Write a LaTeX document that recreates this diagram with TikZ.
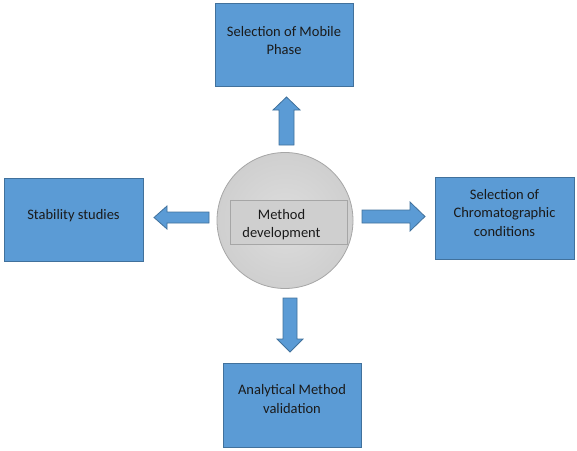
\documentclass[tikz,border=0pt]{standalone}
\usepackage{fontspec}
\setmainfont{Carlito}
\definecolor{boxfill}{HTML}{5B9BD5}
\definecolor{boxline}{HTML}{41719C}
\definecolor{circfill}{HTML}{CFCFCF}
\definecolor{circline}{HTML}{A6A6A6}
\definecolor{txt}{HTML}{1A1A1A}
\tikzset{
  bluebox/.style={draw=boxline, fill=boxfill, line width=0.8pt, inner sep=0pt},
  lbl/.style={inner sep=0pt, align=center, text=txt, font=\fontsize{14.5}{18.7}\selectfont},
  blockarrow/.style={draw=boxline, fill=boxfill, line width=0.8pt, line join=miter},
}
\begin{document}
\begin{tikzpicture}[x=1pt,y=-1pt]
\useasboundingbox (0,0) rectangle (577,450);
% center
\node[circle, draw=circline, inner color=circfill!70!white, outer color=circfill, minimum size=136pt, inner sep=0pt, line width=0.8pt] (c) at (285,220.5) {};
\node[draw=circline, fill=circfill, line width=0.8pt, minimum width=117pt, minimum height=44pt, inner sep=0pt] (m) at (288.5,222) {};
\node[lbl] (mt) at ([xshift=-7pt,yshift=-2.5pt]m.center) {Method\\development};
% boxes
\node[bluebox, minimum width=138pt, minimum height=83pt] (top) at (284,44.5) {};
\node[lbl] (topt) at ([yshift=4pt]top.center) {Selection of Mobile\\Phase};
\node[bluebox, minimum width=139pt, minimum height=83pt] (left) at (73.5,219.5) {};
\node[lbl] (leftt) at ([yshift=4pt]left.center) {Stability studies};
\node[bluebox, minimum width=139pt, minimum height=82pt] (right) at (504.5,218) {};
\node[lbl] (rightt) at ([yshift=5pt]right.center) {Selection of\\Chromatographic\\conditions};
\node[bluebox, minimum width=138pt, minimum height=84pt] (bot) at (292,405) {};
\node[lbl] (bott) at ([yshift=6pt]bot.center) {Analytical Method\\validation};
% block arrows
\draw[blockarrow] (279,145) -- (279,110) -- (273,110) -- (286.5,97) -- (300,110) -- (294,110) -- (294,145) -- cycle;
\draw[blockarrow] (209,212) -- (167,212) -- (167,206) -- (154,217.5) -- (167,229) -- (167,223) -- (209,223) -- cycle;
\draw[blockarrow] (362,210) -- (410,210) -- (410,202) -- (425,216.5) -- (410,231) -- (410,223) -- (362,223) -- cycle;
\draw[blockarrow] (283,298) -- (283,339) -- (277,339) -- (290,352) -- (303,339) -- (297,339) -- (297,298) -- cycle;
\end{tikzpicture}
\end{document}
